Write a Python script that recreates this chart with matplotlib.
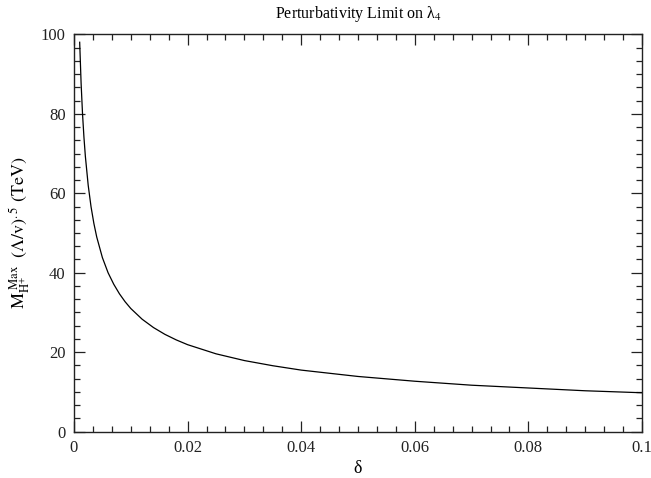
import matplotlib
matplotlib.use("Agg")
import matplotlib.pyplot as plt
from matplotlib.ticker import AutoMinorLocator

plt.rcParams['font.family'] = ['Liberation Serif', 'DejaVu Serif']
plt.rcParams['mathtext.fontset'] = 'stix'

delta = [0.001, 0.00125, 0.0015, 0.00175, 0.002, 0.0025, 0.003, 0.0035, 0.004,
         0.005, 0.006, 0.007, 0.008, 0.009, 0.01, 0.012, 0.014, 0.016, 0.018,
         0.02, 0.025, 0.03, 0.035, 0.04, 0.05, 0.06, 0.07, 0.08, 0.09, 0.1]
mmax = [98.0, 87.7, 80.0, 74.1, 69.3, 62.0, 56.6, 52.4, 49.0,
        43.8, 40.0, 37.1, 34.7, 32.7, 31.0, 28.3, 26.2, 24.5, 23.1,
        21.9, 19.6, 17.9, 16.6, 15.5, 13.9, 12.7, 11.7, 11.0, 10.3, 9.8]

xticks = [0, 0.02, 0.04, 0.06, 0.08, 0.1]
xticklabels = ['0', '0.02', '0.04', '0.06', '0.08', '0.1']
yticks = [0, 20, 40, 60, 80, 100]

fig = plt.figure(figsize=(6.51, 4.78), dpi=100)
ax = fig.add_axes([74/651, 1-431.7/478, (642-74)/651, (431.7-34.3)/478])
ax.plot(delta, mmax, color='black', lw=0.9)
ax.set_xlim(0, 0.1)
ax.set_ylim(0, 100)
ax.set_xticks(xticks)
ax.set_xticklabels(xticklabels)
ax.set_yticks(yticks)
ax.xaxis.set_minor_locator(AutoMinorLocator(6))
ax.yaxis.set_minor_locator(AutoMinorLocator(6))
ax.tick_params(which='both', direction='in', top=True, right=True, labelsize=12,
               colors='#222222')
ax.tick_params(which='major', length=8, width=0.9, pad=6)
ax.tick_params(which='minor', length=4, width=0.9)
for s in ax.spines.values():
    s.set_linewidth(1.0)
    s.set_color('#222222')
ax.set_title('Perturbativity Limit on λ$_4$', fontsize=11.5, pad=12)
ax.set_xlabel('δ', fontsize=13, labelpad=3)
ax.set_ylabel(r'$\mathrm{M}_{\mathrm{H}^{+}}^{\ \mathrm{Max}}\ \ \mathrm{(Λ/v)}^{.5}\ \mathrm{(TeV)}$',
              fontsize=13, labelpad=6)
fig.savefig('out.png', dpi=100)
